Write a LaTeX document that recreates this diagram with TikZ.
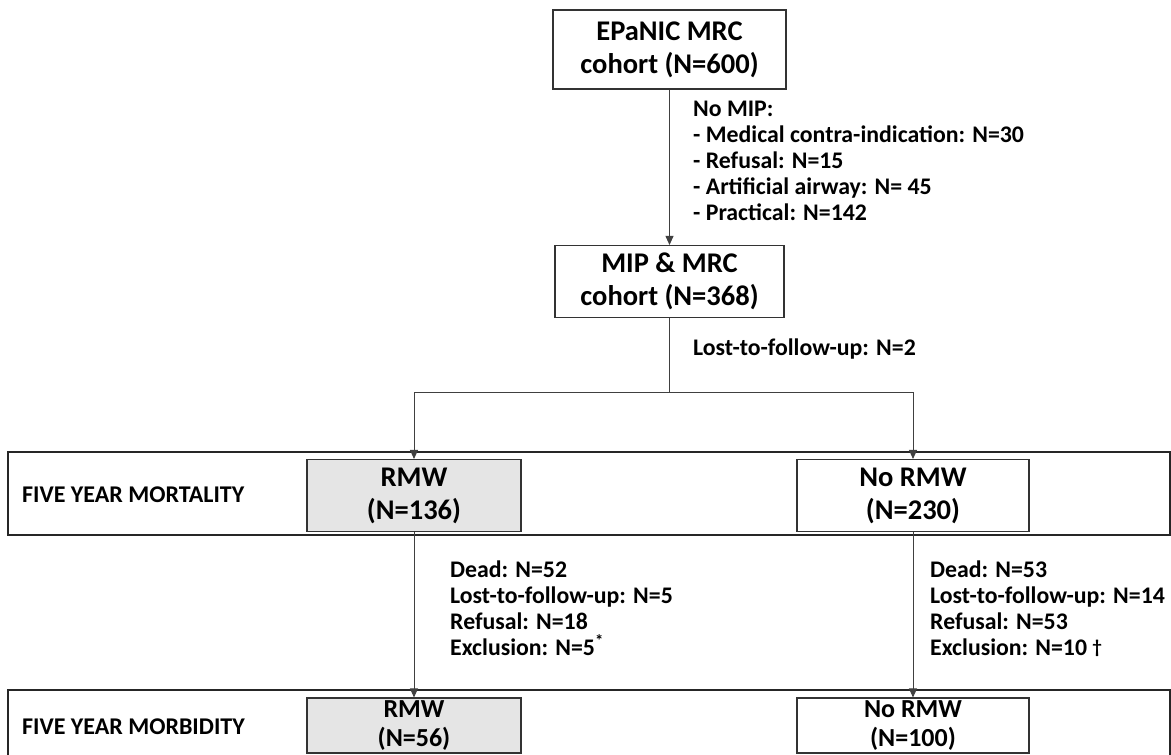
\documentclass[tikz,border=0pt]{standalone}
\usepackage{fontspec}
\setmainfont{Carlito}
\usetikzlibrary{arrows.meta}
\begin{document}
\begin{tikzpicture}[x=1pt,y=-1pt,
  box/.style={draw=black!80, line width=1.1pt, align=center, inner sep=0pt,
    font=\bfseries\fontsize{28.5}{33}\selectfont},
  greybox/.style={box, fill=black!10},
  lowbox/.style={font=\bfseries\fontsize{26}{29.5}\selectfont},
  band/.style={draw=black!85, line width=1.8pt, inner sep=0pt},
  bandlabel/.style={anchor=west, inner sep=0pt, font=\bfseries\fontsize{24}{28}\selectfont},
  note/.style={anchor=north west, align=left, inner sep=0pt,
    font=\bfseries\fontsize{23.8}{26}\selectfont},
  conn/.style={draw=black!75, line width=0.9pt},
  arr/.style={conn, -{Triangle[length=9pt,width=8pt]}}
]
\useasboundingbox (0,0) rectangle (1171,755);
\clip (0,0) rectangle (1171,755);

% bands
\node[band, minimum width=1162pt, minimum height=70pt] (morbband) at (589,725) {};
\node[band, minimum width=1162pt, minimum height=83pt] (mortband) at (589,493.5) {};
\node[bandlabel] (mortlab) at (22,495) {FIVE YEAR MORTALITY};
\node[bandlabel] (morblab) at (22,727) {FIVE YEAR MORBIDITY};

% boxes
\node[box, minimum width=233pt, minimum height=79pt] (epanic) at (669.5,49.5) {EPaNIC MRC\\cohort (N=600)};
\node[box, minimum width=229pt, minimum height=72pt] (mip) at (669.5,281.5) {MIP \& MRC\\cohort (N=368)};
\node[greybox, minimum width=214pt, minimum height=72pt] (rmw1) at (414,495.5) {RMW\\(N=136)};
\node[box, minimum width=232pt, minimum height=72pt] (normw1) at (913,495.5) {No RMW\\(N=230)};
\node[greybox, lowbox, minimum width=214pt, minimum height=55pt] (rmw2) at (414,725.5) {RMW\\(N=56)};
\node[box, lowbox, minimum width=232pt, minimum height=55pt] (normw2) at (913,725.5) {No RMW\\(N=100)};

% notes
\node[note] (nomip) at (693,101) {No MIP:\\- Medical contra-indication: N=30\\- Refusal: N=15\\- Artificial airway: N= 45\\- Practical: N=142};
\node[note] (lost) at (693,339) {Lost-to-follow-up: N=2};
\node[note] (leftnote) at (450,561) {Dead: N=52\\Lost-to-follow-up: N=5\\Refusal: N=18\\Exclusion: N=5\textsuperscript{*}};
\node[note] (rightnote) at (930,561) {Dead: N=53\\Lost-to-follow-up: N=14\\Refusal: N=53\\Exclusion: N=10 \raisebox{2pt}{\fontsize{19}{19}\selectfont †}};

% connectors
\coordinate (split) at (669.5,392);
\coordinate (splitL) at (414,392);
\coordinate (splitR) at (913,392);
\draw[arr] (epanic.south) -- (mip.north);
\draw[conn] (mip.south) -- (split);
\draw[conn] (splitL) -- (splitR);
\draw[arr] (splitL) -- (rmw1.north);
\draw[arr] (splitR) -- (normw1.north);
\draw[arr] (rmw1.south) -- (rmw2.north);
\draw[arr] (normw1.south) -- (normw2.north);
\end{tikzpicture}
\end{document}
